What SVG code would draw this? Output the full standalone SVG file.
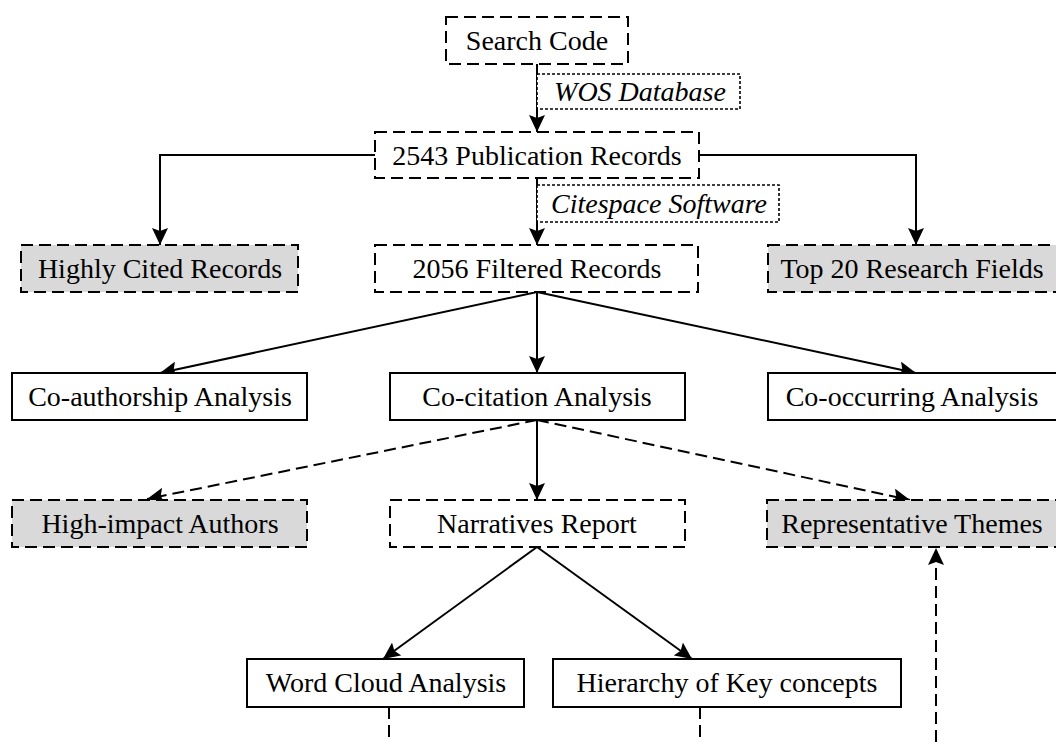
<svg xmlns="http://www.w3.org/2000/svg" width="1056" height="742" viewBox="0 0 1056 742">
<style>
.t{font-family:"Liberation Serif","Times New Roman",serif;font-size:28px;fill:#000;text-anchor:middle}
.i{font-family:"Liberation Serif","Times New Roman",serif;font-size:28px;font-style:italic;fill:#000;text-anchor:middle}
.solid{fill:#fff;stroke:#000;stroke-width:2}
.dash{fill:#fff;stroke:#000;stroke-width:2;stroke-dasharray:12 6}
.gray{fill:#d9d9d9;stroke:#000;stroke-width:2;stroke-dasharray:12 6}
.dot{fill:#fff;stroke:#000;stroke-width:1.6;stroke-dasharray:3 2}
.c{fill:none;stroke:#000;stroke-width:2}
.cd{fill:none;stroke:#000;stroke-width:2;stroke-dasharray:12 6}
</style>
<defs>
<marker id="ah" markerWidth="18" markerHeight="16" refX="17" refY="8" orient="auto" markerUnits="userSpaceOnUse">
<path d="M0,0 L17,8 L0,16 L3,8 Z" fill="#000"/>
</marker>
</defs>
<rect width="1056" height="742" fill="#fff"/>
<g id="connectors">
<path class="c" d="M537,64 V132" marker-end="url(#ah)"/>
<path class="c" d="M537,178 V245" marker-end="url(#ah)"/>
<path class="c" d="M375,155 H160 V245" marker-end="url(#ah)"/>
<path class="c" d="M699,155 H916 V245" marker-end="url(#ah)"/>
<path class="c" d="M537,292 L160,373" marker-end="url(#ah)"/>
<path class="c" d="M537,292 V373" marker-end="url(#ah)"/>
<path class="c" d="M537,292 L916,373" marker-end="url(#ah)"/>
<path class="cd" d="M537,420 L147,499" marker-end="url(#ah)"/>
<path class="c" d="M537,420 V500" marker-end="url(#ah)"/>
<path class="cd" d="M537,420 L910,500" marker-end="url(#ah)"/>
<path class="c" d="M537,547 L383,659" marker-end="url(#ah)"/>
<path class="c" d="M537,547 L692,659" marker-end="url(#ah)"/>
<path class="cd" d="M389,707 V742"/>
<path class="cd" d="M700,707 V742"/>
<path class="cd" d="M936,742 V548" marker-end="url(#ah)"/>
</g>
<g id="search-code"><rect class="dash" x="446" y="17" width="182" height="47"/><text class="t" x="537" y="50">Search Code</text></g>
<g id="wos-label"><rect class="dot" x="537" y="74" width="203" height="35"/><text class="i" x="640" y="101">WOS Database</text></g>
<g id="publication-records"><rect class="dash" x="375" y="132" width="324" height="46"/><text class="t" x="537" y="165">2543 Publication Records</text></g>
<g id="citespace-label"><rect class="dot" x="537" y="185" width="242" height="37"/><text class="i" x="659" y="213">Citespace Software</text></g>
<g id="highly-cited"><rect class="gray" x="21" y="245" width="277" height="47"/><text class="t" x="160" y="278">Highly Cited Records</text></g>
<g id="filtered-records"><rect class="dash" x="375" y="245" width="323" height="47"/><text class="t" x="537" y="278">2056 Filtered Records</text></g>
<g id="top20"><rect class="gray" x="768" y="245" width="296" height="47"/><text class="t" x="912" y="278">Top 20 Research Fields</text></g>
<g id="co-authorship"><rect class="solid" x="12" y="373" width="295" height="47"/><text class="t" x="160" y="406">Co-authorship Analysis</text></g>
<g id="co-citation"><rect class="solid" x="390" y="373" width="295" height="47"/><text class="t" x="537" y="406">Co-citation Analysis</text></g>
<g id="co-occurring"><rect class="solid" x="768" y="373" width="296" height="47"/><text class="t" x="912" y="406">Co-occurring Analysis</text></g>
<g id="high-impact"><rect class="gray" x="12" y="500" width="295" height="47"/><text class="t" x="160" y="533">High-impact Authors</text></g>
<g id="narratives"><rect class="dash" x="390" y="500" width="295" height="47"/><text class="t" x="537" y="533">Narratives Report</text></g>
<g id="representative"><rect class="gray" x="767" y="500" width="297" height="47"/><text class="t" x="912" y="533">Representative Themes</text></g>
<g id="word-cloud"><rect class="solid" x="247" y="659" width="277" height="48"/><text class="t" x="386" y="692">Word Cloud Analysis</text></g>
<g id="hierarchy"><rect class="solid" x="553" y="659" width="348" height="48"/><text class="t" x="727" y="692">Hierarchy of Key concepts</text></g>
</svg>
